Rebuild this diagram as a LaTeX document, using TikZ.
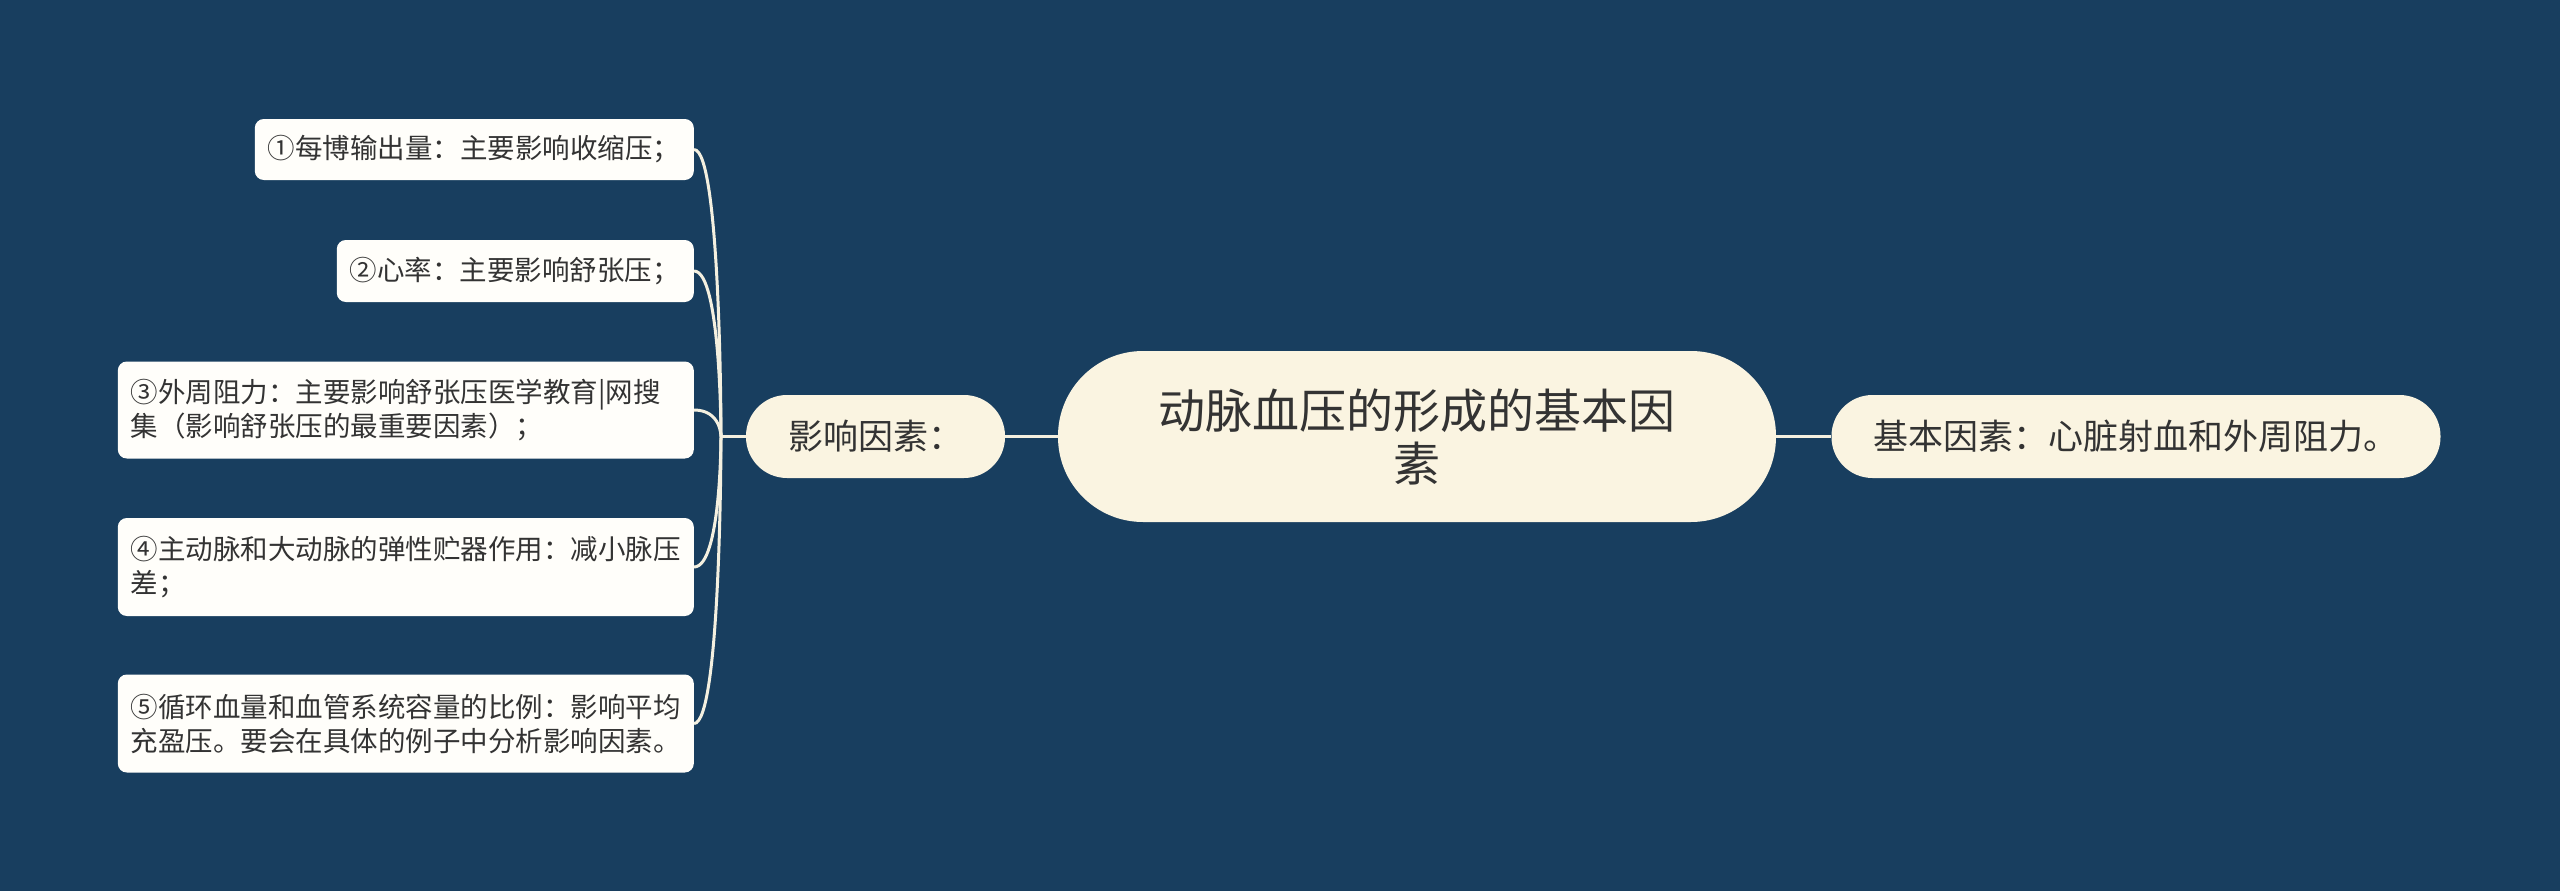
\documentclass[tikz,border=0pt]{standalone}
\usepackage{fontspec}
\setmainfont{Noto Sans CJK SC}
\definecolor{bgblue}{HTML}{183E5F}
\definecolor{cream}{HTML}{FAF4E1}
\definecolor{paper}{HTML}{FFFEFA}
\definecolor{ink}{HTML}{333333}
\definecolor{wire}{HTML}{F4F0E0}

\begin{document}
\begin{tikzpicture}[x=1pt,y=-1pt,
    root/.style={fill=cream,rounded corners=85pt,minimum width=718pt,minimum height=171pt,align=center,text=ink,font=\fontsize{47}{53}\selectfont},
    topic/.style={fill=cream,rounded corners=41pt,minimum height=83pt,inner xsep=42pt,text=ink,font=\fontsize{35}{42}\selectfont},
    leaf/.style={fill=paper,rounded corners=9pt,inner xsep=13pt,inner ysep=4pt,align=left,anchor=east,text=ink,font=\fontsize{27.5}{34}\selectfont},
    link/.style={wire,line width=3pt}]
    \fill[bgblue] (0,0) rectangle (2560,891);
    \useasboundingbox (0,0) rectangle (2560,891);

    \node[root] (main) at (1417,436.5) {动脉血压的形成的基本因\\素};
    \node[topic] (factor) at (875.5,436.5) {影响因素：};
    \node[topic] (basic) at (2136,436.5) {基本因素：心脏射血和外周阻力。};
    \coordinate (hub) at (721,436.5);

    \node[leaf,text width=413pt,minimum height=61pt] (b1) at (694,149.5) {①每博输出量：主要影响收缩压；};
    \node[leaf,text width=331pt,minimum height=62pt] (b2) at (694,271) {②心率：主要影响舒张压；};
    \node[leaf,text width=550pt,minimum height=97pt] (b3) at (694,410) {③外周阻力：主要影响舒张压医学教育|网搜\\集（影响舒张压的最重要因素）；};
    \node[leaf,text width=550pt,minimum height=98pt] (b4) at (694,567) {④主动脉和大动脉的弹性贮器作用：减小脉压\\差；};
    \node[leaf,text width=550pt,minimum height=98pt] (b5) at (694,723.5) {⑤循环血量和血管系统容量的比例：影响平均\\充盈压。要会在具体的例子中分析影响因素。};

    \draw[link] (main) -- (factor);
    \draw[link] (main) -- (basic);
    \draw[link] (factor.west) -- (hub);
    \foreach \n in {b1,b2,b3,b4,b5}
        \draw[link] (hub) .. controls (hub) and (hub |- \n.east) .. (\n.east);
\end{tikzpicture}
\end{document}
